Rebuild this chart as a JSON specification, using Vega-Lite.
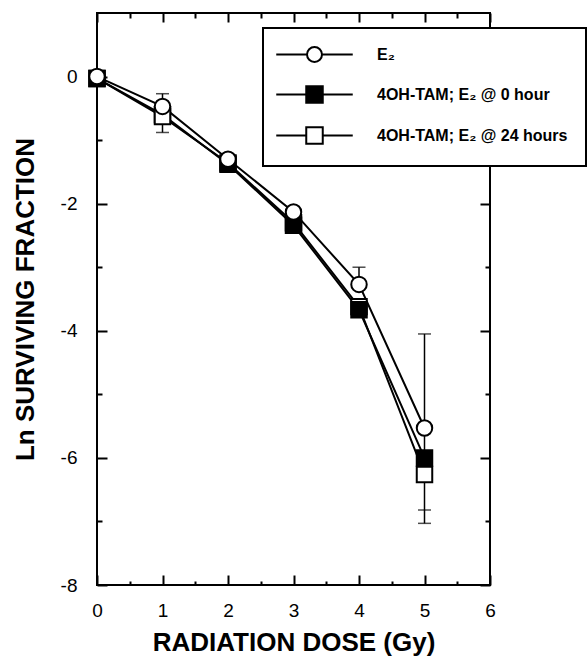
{
  "$schema": "https://vega.github.io/schema/vega-lite/v6.json",
  "width": 393,
  "height": 572,
  "autosize": "none",
  "padding": {"left": 97, "top": 13, "right": 97, "bottom": 73},
  "background": "white",
  "config": {
    "view": {"stroke": "black", "strokeWidth": 2},
    "font": "Liberation Sans",
    "axis": {
      "domain": false, "grid": false, "tickColor": "black", "tickWidth": 2,
      "labelColor": "black", "titleColor": "black",
      "labelFont": "Liberation Sans", "titleFont": "Liberation Sans",
      "labelFontSize": 19, "titleFontSize": 26, "titleFontWeight": "bold",
      "labelOverlap": false, "labelFlush": false
    },
    "legend": {
      "orient": "none", "legendX": 166, "legendY": 15, "title": null,
      "strokeColor": "black", "fillColor": "white", "padding": 18, "rowPadding": 16,
      "symbolSize": 225, "symbolStrokeWidth": 2, "symbolStrokeColor": "black", "symbolOpacity": 1,
      "symbolOffset": 25, "labelOffset": 54,
      "labelFont": "Liberation Sans", "labelFontSize": 16, "labelFontWeight": "bold",
      "labelColor": "black", "labelLimit": 0
    }
  },
  "datasets": {
    "curves": [
      {"series": "4OH-TAM; E₂ @ 24 hours", "dose": 0, "lnsf": -0.03},
      {"series": "4OH-TAM; E₂ @ 0 hour", "dose": 0, "lnsf": -0.03},
      {"series": "E₂", "dose": 0, "lnsf": 0},
      {"series": "4OH-TAM; E₂ @ 0 hour", "dose": 1, "lnsf": -0.6},
      {"series": "4OH-TAM; E₂ @ 24 hours", "dose": 1, "lnsf": -0.63},
      {"series": "E₂", "dose": 1, "lnsf": -0.47},
      {"series": "4OH-TAM; E₂ @ 24 hours", "dose": 2, "lnsf": -1.36},
      {"series": "4OH-TAM; E₂ @ 0 hour", "dose": 2, "lnsf": -1.38},
      {"series": "E₂", "dose": 2, "lnsf": -1.3},
      {"series": "4OH-TAM; E₂ @ 24 hours", "dose": 3, "lnsf": -2.3},
      {"series": "4OH-TAM; E₂ @ 0 hour", "dose": 3, "lnsf": -2.34},
      {"series": "E₂", "dose": 3, "lnsf": -2.13},
      {"series": "4OH-TAM; E₂ @ 24 hours", "dose": 4, "lnsf": -3.62},
      {"series": "4OH-TAM; E₂ @ 0 hour", "dose": 4, "lnsf": -3.67},
      {"series": "E₂", "dose": 4, "lnsf": -3.27},
      {"series": "4OH-TAM; E₂ @ 24 hours", "dose": 5, "lnsf": -6.26},
      {"series": "4OH-TAM; E₂ @ 0 hour", "dose": 5, "lnsf": -6.0},
      {"series": "E₂", "dose": 5, "lnsf": -5.53}
    ],
    "bars": [
      {"dose": 1, "hi": -0.27, "lo": -0.88},
      {"dose": 4, "hi": -3.0, "lo": -3.3},
      {"dose": 5, "hi": -4.05, "lo": -7.03}
    ],
    "caps": [
      {"dose": 1, "cap": -0.27},
      {"dose": 1, "cap": -0.88},
      {"dose": 4, "cap": -3.0},
      {"dose": 5, "cap": -4.05},
      {"dose": 5, "cap": -6.82},
      {"dose": 5, "cap": -7.03}
    ]
  },
  "layer": [
    {
      "data": {"name": "bars"},
      "mark": {"type": "rule", "color": "black", "strokeWidth": 1.5},
      "encoding": {
        "x": {"field": "dose", "type": "quantitative",
          "scale": {"domain": [0, 6], "nice": false, "zero": false},
          "axis": {"orient": "bottom", "values": [0, 1, 2, 3, 4, 5, 6], "tickSize": -10, "labelPadding": 26,
            "title": "RADIATION DOSE (Gy)", "titlePadding": 9}},
        "y": {"field": "hi", "type": "quantitative",
          "scale": {"domain": [-8, 1], "nice": false, "zero": false},
          "axis": {"orient": "left", "values": [0, -2, -4, -6, -8], "tickSize": -10, "labelPadding": 30,
            "labelExpr": "replace(datum.label, '−', '-')",
            "title": "Ln SURVIVING FRACTION", "titlePadding": 22}},
        "y2": {"field": "lo"}
      }
    },
    {
      "data": {"name": "caps"},
      "mark": {"type": "tick", "orient": "horizontal", "size": 13, "thickness": 1.5, "color": "black"},
      "encoding": {
        "x": {"field": "dose", "type": "quantitative",
          "axis": {"orient": "bottom", "values": [0.5, 1.5, 2.5, 3.5, 4.5, 5.5], "tickSize": -4, "labels": false, "title": null}},
        "y": {"field": "cap", "type": "quantitative",
          "axis": {"orient": "left", "values": [-1, -3, -5, -7], "tickSize": -5, "labels": false, "title": null}}
      }
    },
    {
      "data": {"name": "curves"},
      "mark": {"type": "line", "color": "black", "strokeWidth": 2},
      "encoding": {
        "x": {"field": "dose", "type": "quantitative",
          "axis": {"orient": "top", "values": [0, 1, 2, 3, 4, 5, 6], "tickSize": -9, "labels": false, "title": null}},
        "y": {"field": "lnsf", "type": "quantitative",
          "axis": {"orient": "right", "values": [0, -2, -4, -6, -8], "tickSize": -10, "labels": false, "title": null}},
        "detail": {"field": "series"}
      }
    },
    {
      "data": {"name": "curves"},
      "mark": {"type": "point", "filled": true, "stroke": "black", "strokeWidth": 2, "size": 0},
      "encoding": {
        "x": {"field": "dose", "type": "quantitative",
          "axis": {"orient": "top", "values": [0.5, 1.5, 2.5, 3.5, 4.5, 5.5], "tickSize": -5, "labels": false, "title": null}},
        "y": {"field": "lnsf", "type": "quantitative",
          "axis": {"orient": "right", "values": [-1, -3, -5, -7], "tickSize": -5, "labels": false, "title": null}},
        "shape": {"field": "series", "type": "nominal",
          "scale": {"domain": ["E₂", "4OH-TAM; E₂ @ 0 hour", "4OH-TAM; E₂ @ 24 hours"],
            "range": [
              "M-5.1,0L-1,0M1,0L5.1,0M-1,0A1,1,0,1,1,1,0A1,1,0,1,1,-1,0Z",
              "M-5.1,0L-1.1,0M1.1,0L5.1,0M-1.1,-1.1L1.1,-1.1L1.1,1.1L-1.1,1.1Z",
              "M-5.1,0L-1.1,0M1.1,0L5.1,0M-1.1,-1.1L1.1,-1.1L1.1,1.1L-1.1,1.1Z"
            ]},
          "legend": {"encode": {
            "symbols": {"update": {"stroke": {"value": "black"}, "strokeWidth": {"value": 2}, "opacity": {"value": 1}, "strokeOpacity": {"value": 1}}},
            "legend": {"update": {"strokeWidth": {"value": 2}}}}}},
        "fill": {"field": "series", "type": "nominal",
          "scale": {"domain": ["E₂", "4OH-TAM; E₂ @ 0 hour", "4OH-TAM; E₂ @ 24 hours"],
            "range": ["white", "black", "white"]},
          "legend": {"encode": {
            "symbols": {"update": {"stroke": {"value": "black"}, "strokeWidth": {"value": 2}, "opacity": {"value": 1}, "strokeOpacity": {"value": 1}}},
            "legend": {"update": {"strokeWidth": {"value": 2}}}}}}
      }
    },
    {
      "data": {"name": "curves"},
      "mark": {"type": "point", "filled": true, "stroke": "black", "strokeWidth": 2, "opacity": 1, "size": 240},
      "encoding": {
        "x": {"field": "dose", "type": "quantitative", "axis": null},
        "y": {"field": "lnsf", "type": "quantitative", "axis": null},
        "shape": {"field": "series", "type": "nominal",
          "scale": {"domain": ["E₂", "4OH-TAM; E₂ @ 0 hour", "4OH-TAM; E₂ @ 24 hours"],
            "range": ["circle", "square", "square"]},
          "legend": null},
        "fill": {"field": "series", "type": "nominal",
          "scale": {"domain": ["E₂", "4OH-TAM; E₂ @ 0 hour", "4OH-TAM; E₂ @ 24 hours"],
            "range": ["white", "black", "white"]},
          "legend": null}
      }
    }
  ],
  "resolve": {
    "axis": {"x": "independent", "y": "independent"},
    "scale": {"shape": "independent", "fill": "independent"},
    "legend": {"shape": "independent", "fill": "independent"}
  }
}
